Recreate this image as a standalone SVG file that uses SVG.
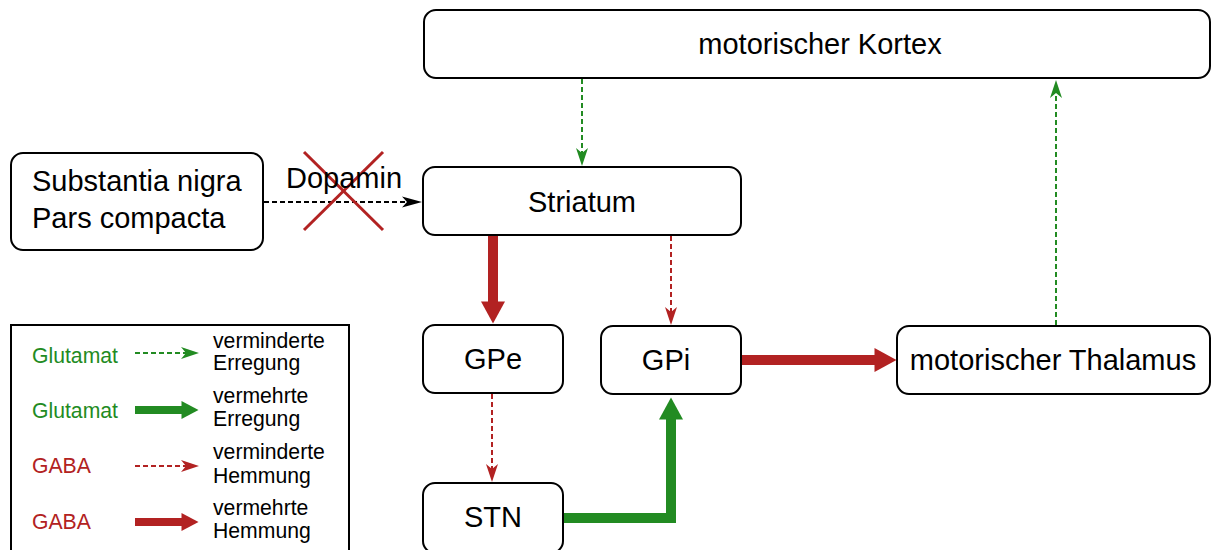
<svg xmlns="http://www.w3.org/2000/svg" width="1211" height="550" viewBox="0 0 1211 550">
  <style>
    .node rect { fill: #ffffff; stroke: #000000; stroke-width: 2; }
    .label { font-family: "Liberation Sans", Arial, sans-serif; font-size: 29px; fill: #000000; }
    .leg { font-family: "Liberation Sans", Arial, sans-serif; font-size: 21.2px; }
    .green { fill: #228B22; }
    .red { fill: #B22222; }
    .black { fill: #000000; }
    .dash-g { stroke: #228B22; stroke-width: 2; stroke-dasharray: 5 3; fill: none; }
    .dash-r { stroke: #B22222; stroke-width: 2; stroke-dasharray: 5 3; fill: none; }
    .dash-k { stroke: #000000; stroke-width: 2; stroke-dasharray: 5 3; fill: none; }
    .thick-r { stroke: #B22222; stroke-width: 10; fill: none; }
    .thick-g { stroke: #228B22; stroke-width: 10; fill: none; }
    .leg-thick-r { stroke: #B22222; stroke-width: 8; fill: none; }
    .leg-thick-g { stroke: #228B22; stroke-width: 8; fill: none; }
  </style>
  <defs>
    <marker id="veeG" markerUnits="userSpaceOnUse" markerWidth="18" markerHeight="12" refX="5" refY="6" orient="auto" overflow="visible">
      <path d="M0,0 L18,6 L0,12 L5,6 Z" fill="#228B22"/>
    </marker>
    <marker id="veeR" markerUnits="userSpaceOnUse" markerWidth="18" markerHeight="12" refX="5" refY="6" orient="auto" overflow="visible">
      <path d="M0,0 L18,6 L0,12 L5,6 Z" fill="#B22222"/>
    </marker>
    <marker id="veeK" markerUnits="userSpaceOnUse" markerWidth="20" markerHeight="11" refX="5" refY="5.5" orient="auto" overflow="visible">
      <path d="M0,0 L20,5.5 L0,11 L5,5.5 Z" fill="#000000"/>
    </marker>
    <marker id="blockR" markerUnits="userSpaceOnUse" markerWidth="22" markerHeight="24" refX="0.5" refY="12" orient="auto" overflow="visible">
      <path d="M0,0 L22,12 L0,24 Z" fill="#B22222"/>
    </marker>
    <marker id="blockG" markerUnits="userSpaceOnUse" markerWidth="22" markerHeight="24" refX="0.5" refY="12" orient="auto" overflow="visible">
      <path d="M0,0 L22,12 L0,24 Z" fill="#228B22"/>
    </marker>
    <marker id="legBlockR" markerUnits="userSpaceOnUse" markerWidth="17" markerHeight="18" refX="0.5" refY="9" orient="auto" overflow="visible">
      <path d="M0,0 L17,9 L0,18 Z" fill="#B22222"/>
    </marker>
    <marker id="legBlockG" markerUnits="userSpaceOnUse" markerWidth="17" markerHeight="18" refX="0.5" refY="9" orient="auto" overflow="visible">
      <path d="M0,0 L17,9 L0,18 Z" fill="#228B22"/>
    </marker>
  </defs>

  <rect x="0" y="0" width="1211" height="550" fill="#ffffff"/>

  <!-- Connectors -->
  <g id="connectors">
    <line class="dash-g" x1="582" y1="79" x2="582" y2="153" marker-end="url(#veeG)"/>
    <line class="dash-g" x1="1056" y1="325" x2="1056" y2="93" marker-end="url(#veeG)"/>
    <line class="dash-k" x1="264" y1="202" x2="407" y2="202" marker-end="url(#veeK)"/>
    <line class="dash-r" x1="671" y1="236" x2="671" y2="312" marker-end="url(#veeR)"/>
    <line class="dash-r" x1="492" y1="394" x2="492" y2="469" marker-end="url(#veeR)"/>
    <line class="thick-r" x1="493" y1="236" x2="493" y2="302" marker-end="url(#blockR)"/>
    <polyline class="thick-g" points="563,518 671,518 671,419" marker-end="url(#blockG)"/>
    <line class="thick-r" x1="742" y1="360" x2="875" y2="360" marker-end="url(#blockR)"/>
  </g>

  <!-- Blocked dopamine cross -->
  <g id="cross">
    <line x1="304" y1="152" x2="383" y2="230" stroke="#B22222" stroke-width="3"/>
    <line x1="383" y1="152" x2="304" y2="230" stroke="#B22222" stroke-width="3"/>
  </g>
  <text id="dopamin-label" class="label" x="286" y="188">Dopamin</text>

  <!-- Nodes -->
  <g id="kortex" class="node">
    <rect x="424" y="10" width="786" height="68" rx="12"/>
    <text class="label" x="820" y="54" text-anchor="middle" font-size="30">motorischer Kortex</text>
  </g>
  <g id="striatum" class="node">
    <rect x="423" y="167" width="318" height="68" rx="12"/>
    <text class="label" x="582" y="212" text-anchor="middle">Striatum</text>
  </g>
  <g id="substantia" class="node">
    <rect x="11" y="153" width="252" height="97" rx="12"/>
    <text class="label" x="32" y="191">Substantia nigra</text>
    <text class="label" x="32" y="228">Pars compacta</text>
  </g>
  <g id="gpe" class="node">
    <rect x="423" y="325" width="140" height="68" rx="12"/>
    <text class="label" x="493" y="369" text-anchor="middle">GPe</text>
  </g>
  <g id="gpi" class="node">
    <rect x="601" y="326" width="140" height="68" rx="12"/>
    <text class="label" x="666" y="370" text-anchor="middle">GPi</text>
  </g>
  <g id="thalamus" class="node">
    <rect x="897" y="326" width="313" height="68" rx="12"/>
    <text class="label" x="1053" y="370" text-anchor="middle" font-size="27">motorischer Thalamus</text>
  </g>
  <g id="stn" class="node">
    <rect x="423" y="483" width="140" height="70" rx="12"/>
    <text class="label" x="493" y="527" text-anchor="middle">STN</text>
  </g>

  <!-- Legend -->
  <g id="legend">
    <rect x="11" y="325" width="338" height="240" fill="#ffffff" stroke="#000000" stroke-width="2"/>
    <text class="leg green" x="32" y="363">Glutamat</text>
    <line class="dash-g" x1="135" y1="353" x2="186" y2="353" marker-end="url(#veeG)"/>
    <text class="leg black" x="213" y="348">verminderte</text>
    <text class="leg black" x="213" y="370">Erregung</text>

    <text class="leg green" x="32" y="418">Glutamat</text>
    <line class="leg-thick-g" x1="135" y1="410" x2="182" y2="410" marker-end="url(#legBlockG)"/>
    <text class="leg black" x="213" y="403">vermehrte</text>
    <text class="leg black" x="213" y="426">Erregung</text>

    <text class="leg red" x="32" y="473">GABA</text>
    <line class="dash-r" x1="135" y1="466" x2="186" y2="466" marker-end="url(#veeR)"/>
    <text class="leg black" x="213" y="459">verminderte</text>
    <text class="leg black" x="213" y="483">Hemmung</text>

    <text class="leg red" x="32" y="529">GABA</text>
    <line class="leg-thick-r" x1="135" y1="522" x2="182" y2="522" marker-end="url(#legBlockR)"/>
    <text class="leg black" x="213" y="515">vermehrte</text>
    <text class="leg black" x="213" y="538">Hemmung</text>
  </g>
</svg>
